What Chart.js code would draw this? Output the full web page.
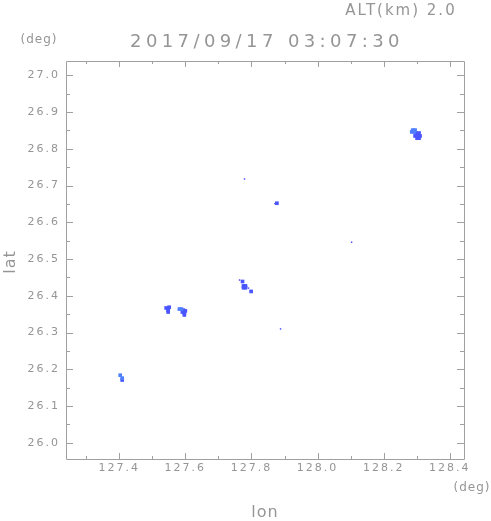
<!DOCTYPE html>
<html>
<head>
<meta charset="utf-8">
<script src="https://cdn.jsdelivr.net/npm/chart.js@4/dist/chart.umd.min.js"></script>
<style>
html,body{margin:0;padding:0;background:#fff;}
#wrap{width:491px;height:521px;}
</style>
</head>
<body>
<div id="wrap"><canvas id="c" width="491" height="521"></canvas></div>
<script>
// ---- data ----
const titleText = "2017/09/17 03:07:30";
const altText = "ALT(km) 2.0";
const xTickValues = [127.4, 127.6, 127.8, 128.0, 128.2, 128.4];
const yTickValues = [26.0, 26.1, 26.2, 26.3, 26.4, 26.5, 26.6, 26.7, 26.8, 26.9, 27.0];
const xRange = [127.239, 128.443];
const yRange = [25.956, 27.039];

const lightLon = [128.288, 128.295, 128.285, 128.292, 127.582, 127.588, 127.403, 127.409];
const lightLat = [26.851, 26.851, 26.846, 26.846, 26.364, 26.364, 26.184, 26.176];

const darkLon = [128.298, 128.307, 128.295, 128.304, 128.310, 128.301, 128.307,
                 127.542, 127.551, 127.548, 127.548,
                 127.594, 127.600, 127.591, 127.597, 127.597,
                 127.409, 127.877,
                 127.773, 127.776, 127.782, 127.776, 127.782, 127.799];
const darkLat = [26.843, 26.843, 26.835, 26.835, 26.835, 26.829, 26.829,
                 26.367, 26.369, 26.361, 26.356,
                 26.361, 26.359, 26.356, 26.353, 26.348,
                 26.171, 26.652,
                 26.439, 26.427, 26.427, 26.422, 26.422, 26.412];

const speckLon = [127.779, 127.871, 127.764, 127.791, 128.103, 127.888];
const speckLat = [26.718, 26.651, 26.443, 26.421, 26.546, 26.310];

const pts = (xs, ys) => xs.map((x, i) => ({x: x, y: ys[i]}));

const GREY = '#959595';
const FRAME = '#a0a0a0';

const framePlugin = {
  id: 'frameAndText',
  beforeDraw(chart) {
    chart.ctx.letterSpacing = '2px';
  },
  afterDraw(chart) {
    const ctx = chart.ctx;
    ctx.letterSpacing = '0px';
    const a = chart.chartArea;
    const xs = chart.scales.x, ys = chart.scales.y;
    ctx.save();
    ctx.strokeStyle = FRAME;
    ctx.lineWidth = 1;
    ctx.beginPath();
    ctx.rect(Math.round(a.left) + 0.5, Math.round(a.top) + 0.5,
             Math.round(a.right - a.left), Math.round(a.bottom - a.top));
    ctx.stroke();
    const xMinor = [];
    for (let i = 0; i < xTickValues.length; i++) xMinor.push(xTickValues[i] - 0.1);
    xMinor.push(xTickValues[xTickValues.length - 1] + 0.1);
    const drawX = (v, len) => {
      if (v < xRange[0] || v > xRange[1]) return;
      const px = Math.round(xs.getPixelForValue(v)) + 0.5;
      ctx.moveTo(px, a.bottom); ctx.lineTo(px, a.bottom - len);
      ctx.moveTo(px, a.top); ctx.lineTo(px, a.top + len);
    };
    const yMinor = [];
    for (let i = 0; i < yTickValues.length; i++) yMinor.push(yTickValues[i] - 0.05);
    yMinor.push(yTickValues[yTickValues.length - 1] + 0.05);
    const drawY = (v, len) => {
      if (v < yRange[0] || v > yRange[1]) return;
      const py = Math.round(ys.getPixelForValue(v)) + 0.5;
      ctx.moveTo(a.left, py); ctx.lineTo(a.left + len, py);
      ctx.moveTo(a.right, py); ctx.lineTo(a.right - len, py);
    };
    ctx.beginPath();
    xTickValues.forEach(v => drawX(v, 6));
    xMinor.forEach(v => drawX(v, 3));
    yTickValues.forEach(v => drawY(v, 7));
    yMinor.forEach(v => drawY(v, 4));
    ctx.stroke();

    ctx.fillStyle = GREY;
    ctx.textBaseline = 'alphabetic';
    ctx.textAlign = 'center';
    ctx.font = '18px "DejaVu Sans"';
    ctx.letterSpacing = '4.4px';
    ctx.fillText(titleText, 267, 47);

    ctx.font = '15px "DejaVu Sans"';
    ctx.letterSpacing = '2px';
    ctx.fillText(altText, 401, 15);

    ctx.font = '12px "DejaVu Sans"';
    ctx.letterSpacing = '1px';
    ctx.fillText('(deg)', 39, 43);
    ctx.fillText('(deg)', 472, 491);

    ctx.font = '16px "DejaVu Sans"';
    ctx.letterSpacing = '1px';
    ctx.fillText('lon', 265, 517);

    ctx.save();
    ctx.translate(15, 262);
    ctx.rotate(-Math.PI / 2);
    ctx.fillText('lat', 0, 0);
    ctx.restore();

    ctx.letterSpacing = '0px';
    ctx.restore();
  }
};

new Chart(document.getElementById('c'), {
  type: 'scatter',
  data: {
    datasets: [
      {label: 'light', data: pts(lightLon, lightLat), backgroundColor: '#4f7fff', borderWidth: 0,
       pointStyle: 'rect', pointRadius: 2.6},
      {label: 'dark', data: pts(darkLon, darkLat), backgroundColor: '#4a55ff', borderWidth: 0,
       pointStyle: 'rect', pointRadius: 2.6},
      {label: 'speck', data: pts(speckLon, speckLat), backgroundColor: '#3f3fff', borderWidth: 0,
       pointStyle: 'rect', pointRadius: 1.0}
    ]
  },
  options: {
    responsive: false,
    animation: false,
    events: [],
    layout: {padding: {left: 0, top: 61, right: 27, bottom: 0}},
    plugins: {legend: {display: false}, title: {display: false}, tooltip: {enabled: false}},
    scales: {
      x: {
        type: 'linear', min: xRange[0], max: xRange[1],
        grid: {drawOnChartArea: false, drawTicks: false},
        border: {display: false},
        afterBuildTicks: s => { s.ticks = xTickValues.map(v => ({value: v})); },
        afterFit: s => { s.height = 62; },
        ticks: {color: GREY, padding: 3, font: {family: 'DejaVu Sans', size: 11},
                maxRotation: 0, autoSkip: false, callback: v => Number(v).toFixed(1)}
      },
      y: {
        type: 'linear', min: yRange[0], max: yRange[1],
        grid: {drawOnChartArea: false, drawTicks: false},
        border: {display: false},
        afterBuildTicks: s => { s.ticks = yTickValues.map(v => ({value: v})); },
        afterFit: s => { s.width = 66; },
        ticks: {color: GREY, padding: 6, font: {family: 'DejaVu Sans', size: 11},
                autoSkip: false, callback: v => Number(v).toFixed(1)}
      }
    }
  },
  plugins: [framePlugin]
});
</script>
</body>
</html>
